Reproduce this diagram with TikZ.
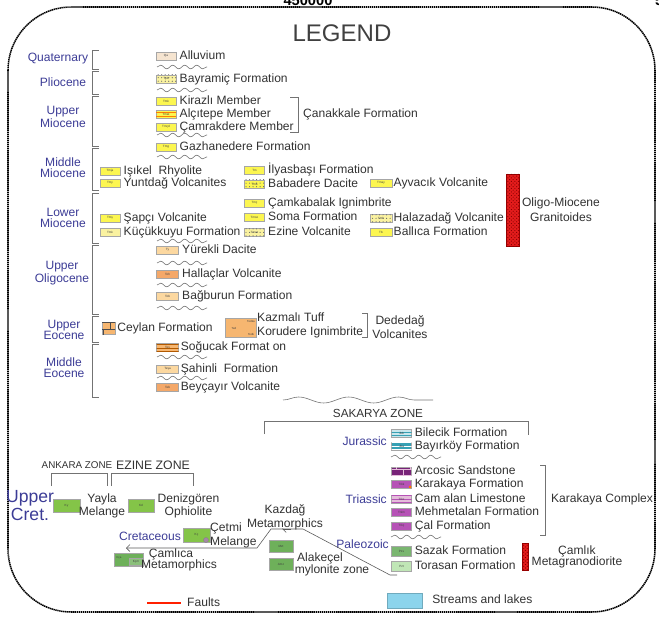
\documentclass[tikz,border=0pt]{standalone}
\usepackage{fontspec}
\setmainfont{Liberation Sans}
\usetikzlibrary{positioning,patterns,decorations.pathmorphing,arrows.meta}
\definecolor{txt}{RGB}{50,50,50}
\definecolor{period}{RGB}{60,60,150}
\definecolor{tyel}{RGB}{252,246,80}
\definecolor{tbeige}{RGB}{245,228,208}
\definecolor{tpale}{RGB}{250,242,160}
\definecolor{olpale}{RGB}{252,216,160}
\definecolor{olor}{RGB}{244,168,105}
\definecolor{eoor}{RGB}{246,182,112}
\definecolor{granred}{RGB}{228,28,28}
\definecolor{jlight}{RGB}{200,230,236}
\definecolor{jteal}{RGB}{55,160,180}
\definecolor{trdark}{RGB}{120,35,120}
\definecolor{trmid}{RGB}{182,82,182}
\definecolor{trpale}{RGB}{228,188,218}
\definecolor{pzmid}{RGB}{122,182,112}
\definecolor{pzpale}{RGB}{192,230,182}
\definecolor{kgreen}{RGB}{132,196,72}
\definecolor{mgreen}{RGB}{110,176,90}
\definecolor{lake}{RGB}{140,212,236}
\tikzset{
  unit/.style={draw=black!35, line width=0.3pt, inner sep=0pt, minimum width=0.6cm,
    minimum height=0.24cm, font=\fontsize{2.6}{3}\selectfont, text=black!75},
  wide/.style={unit, minimum width=0.66cm},
  lbl/.style={inner sep=0pt, text=txt, font=\fontsize{10.3}{11}\selectfont,
    text height=7.5pt, text depth=2pt},
  txtc/.style={inner sep=0pt, text=txt, align=center, font=\fontsize{10.3}{11.5}\selectfont},
  age/.style={inner sep=0pt, text=period, align=center, font=\fontsize{10.3}{9.4}\selectfont},
  tinytxt/.style={inner sep=0pt, font=\fontsize{2.4}{3}\selectfont, text=black!75},
  wavy/.style={decorate, decoration={snake, segment length=3.6mm, amplitude=0.55mm},
    black!55, line width=0.5pt},
  brack/.style={black!55, line width=0.6pt},
  dotfill/.style={postaction={pattern=dots, pattern color=black!60}},
  hlines/.style={postaction={pattern=horizontal lines, pattern color=#1}},
  granite/.style={draw=red!60!black, line width=0.3pt, fill=granred, inner sep=0pt,
    postaction={pattern=crosshatch dots, pattern color=red!50!black}},
  fault/.style={black!65, line width=0.5pt},
  frame/.style={line width=1.3pt, dash pattern=on 1.2pt off 0.5pt, rounded corners=1.9cm}
}
\begin{document}
\begin{tikzpicture}[x=0.03cm, y=-0.03cm]
\useasboundingbox (0,0) rectangle (659,619);
\draw[frame] (8,7) rectangle (655,612);
\node[font=\bfseries\fontsize{12.5}{14}\selectfont, anchor=base] (utm) at (308,6) {450000};
\node[font=\bfseries\fontsize{12.5}{14}\selectfont, anchor=base west, inner sep=0pt] (utmr) at (655,6) {5};
\node[text=black!75, font=\fontsize{20.5}{24}\selectfont] (legend) at (342,33) {LEGEND};

\node[age] (quat) at (58,59) {Quaternary};
\node[age] (plio) at (63,82) {Pliocene};
\node[age] (umio) at (63,117) {Upper\\Miocene};
\node[age] (mmio) at (63,168) {Middle\\Miocene};
\node[age] (lmio) at (63,218) {Lower\\Miocene};
\node[age] (uoli) at (62,273) {Upper\\Oligocene};
\node[age] (ueoc) at (64,330) {Upper\\Eocene};
\node[age] (meoc) at (64,368) {Middle\\Eocene};
\foreach \t/\b in {50/69, 71/94, 96/146, 148/190, 193/243, 245/314, 316/342, 344/397}
  \draw[brack] (99,\t) -- (92,\t) -- (92,\b) -- (99,\b);
\foreach \y in {67,90,135,157,241,263,285,308,357,378}
  \draw[wavy] (157,\y) -- (207,\y);

\node[unit, fill=tbeige] (qa) at (166,56) {Qa};
\node[lbl, right=1mm of qa] (qal) {Alluvium};
\node[unit, fill=tpale, dotfill] (tpb) at (166,79) {Tpb};
\node[lbl, right=1mm of tpb] (tpbl) {Bayramiç Formation};
\node[unit, fill=tyel] (tmk) at (166,101) {Tmk};
\node[lbl, right=1mm of tmk] (tmkl) {Kirazlı Member};
\node[unit, fill=tyel, hlines=orange] (tmat) at (166,114) {Tmat};
\node[lbl, right=1mm of tmat] (tmatl) {Alçıtepe Member};
\node[unit, fill=tyel] (tmcd) at (166,127) {Tmçd};
\node[lbl, right=1mm of tmcd] (tmcdl) {Çamrakdere Member};
\draw[brack] (290,97) -- (298,97) -- (298,132) -- (290,132);
\node[lbl, anchor=west] (canak) at (303,114) {Çanakkale Formation};
\node[unit, fill=tyel] (tmg) at (166,147) {Tmg};
\node[lbl, right=1mm of tmg] (tmgl) {Gazhanedere Formation};

\node[unit, fill=tyel] (tmi) at (110,171) {Tmja};
\node[lbl, right=1mm of tmi] (tmil) {Işıkel\ \ Rhyolite};
\node[unit, fill=tyel] (tmy) at (110,183) {Tmy};
\node[lbl, right=1mm of tmy] (tmyl) {Yuntdağ Volcanites};
\node[unit, fill=tyel] (tm) at (254.5,170) {Tm};
\node[lbl, right=1mm of tm] (tml) {İlyasbaşı Formation};
\node[unit, fill=tyel, dotfill] (tmb) at (254.5,184) {Tmb};
\node[lbl, right=1mm of tmb] (tmbl) {Babadere Dacite};
\node[wide, fill=tyel] (tmay) at (381,183) {Tmay};
\node[lbl, right=0.4mm of tmay] (tmayl) {Ayvacık Volcanite};

\node[unit, fill=tyel] (tms) at (110,218) {Tmş};
\node[lbl, right=1mm of tms] (tmsl) {Şapçı Volcanite};
\node[unit, fill=tpale] (tmkk) at (110,232) {Tmk};
\node[lbl, right=1mm of tmkk] (tmkkl) {Küçükkuyu Formation};
\node[unit, fill=tyel] (tmc) at (254.5,203) {Tmç};
\node[lbl, right=1mm of tmc] (tmcl) {Çamkabalak Ignimbrite};
\node[unit, fill=tyel] (tmso) at (254.5,217) {Tmso};
\node[lbl, right=1mm of tmso] (tmsol) {Soma Formation};
\node[unit, fill=tpale, dotfill] (tmez) at (254.5,232) {Tmez};
\node[lbl, right=1mm of tmez] (tmezl) {Ezine Volcanite};
\node[wide, fill=tpale, dotfill] (tmh) at (381,218) {Tmh};
\node[lbl, right=0.4mm of tmh] (tmhl) {Halazadağ Volcanite};
\node[wide, fill=tyel] (tb) at (381,232) {Tb};
\node[lbl, right=0.4mm of tb] (tbl) {Ballıca Formation};
\node[granite, minimum width=0.39cm, minimum height=2.16cm] (omg) at (512.5,210) {};
\node[txtc, font=\fontsize{10.3}{13}\selectfont] (omgl) at (561,210) {Oligo-Miocene\\Granitoides};

\node[wide, fill=olpale] (ty) at (167.5,250) {Ty};
\node[lbl, right=1mm of ty] (tyl) {Yürekli Dacite};
\node[wide, fill=olor] (toh) at (167.5,274) {Toh};
\node[lbl, right=1mm of toh] (tohl) {Hallaçlar Volcanite};
\node[wide, fill=olpale] (tob) at (167.5,296) {Tob};
\node[lbl, right=1mm of tob] (tobl) {Bağburun Formation};

\node[unit, fill=eoor, minimum width=0.39cm, minimum height=0.36cm,
  postaction={pattern=bricks, pattern color=black!70}] (tec) at (108.5,328) {};
\node[lbl, right=0.6mm of tec] (tecl) {Ceylan Formation};
\node[unit, fill=eoor, minimum width=0.93cm, minimum height=0.57cm] (ted) at (240.5,327.5) {};
\node[tinytxt] (tedt) at (234,328) {Ted};
\node[tinytxt] (tedka) at (251,321) {Tedka};
\node[tinytxt] (tedko) at (251,334) {Tedk};
\node[lbl, anchor=west] (tedkal) at (257,318) {Kazmalı Tuff};
\node[lbl, anchor=west] (tedkol) at (257,332) {Korudere Ignimbrite};
\draw[brack] (362,313) -- (367,313) -- (367,337) -- (362,337);
\node[txtc] (dede) at (400,327) {Dededağ\\Volcanites};
\node[wide, fill=eoor, hlines=orange!70!black] (tes) at (167.5,347) {Tes};
\node[lbl, right=0.6mm of tes] (tesl) {Soğucak Format on};
\node[wide, fill=olpale] (tesa) at (167.5,369) {Teşa};
\node[lbl, right=0.6mm of tesa] (tesal) {Şahinli\ \ Formation};
\node[wide, fill=olor] (teb) at (167.5,387) {Teb};
\node[lbl, right=0.6mm of teb] (tebl) {Beyçayır Volcanite};

\draw[wavy, decoration={snake, segment length=1.5cm, amplitude=0.9mm}] (283,400) -- (433,400);
\node[txtc, font=\fontsize{10}{11}\selectfont] (sak) at (378,413) {SAKARYA ZONE};
\draw[brack] (264,434) -- (264,421) -- (528,421) -- (528,435);
\node[age, anchor=east] (jur) at (387,441) {Jurassic};
\node[unit, fill=jlight, hlines=jteal] (jkb) at (401.5,433) {Jkb};
\node[lbl, right=0.9mm of jkb] (jkbl) {Bilecik Formation};
\node[unit, fill=jteal, hlines=white] (jba) at (401.5,446) {Jba};
\node[lbl, right=0.9mm of jba] (jbal) {Bayırköy Formation};
\foreach \y in {457,537}
  \draw[wavy] (391,\y) -- (441,\y);
\node[unit, fill=trdark, postaction={pattern=bricks, pattern color=trpale}] (trka) at (401.5,471) {};
\node[lbl, right=0.9mm of trka] (trkal) {Arcosic Sandstone};
\node[unit, fill=trmid] (trkk) at (401.5,484) {Trkk};
\fill[orange!90!red] (410,487) circle (0.45mm);
\node[lbl, right=0.9mm of trkk] (trkkl) {Karakaya Formation};
\node[unit, fill=trpale, hlines=trmid] (trkc) at (401.5,499) {Trkc};
\node[lbl, right=0.9mm of trkc] (trkcl) {Cam alan Limestone};
\node[unit, fill=trmid] (trkm) at (401.5,512) {Trkm};
\node[lbl, right=0.9mm of trkm] (trkml) {Mehmetalan Formation};
\node[unit, fill=trmid] (trkcal) at (401.5,526) {Trkç};
\node[lbl, right=0.9mm of trkcal] (trkcall) {Çal Formation};
\node[age, anchor=east] (tri) at (387,499) {Triassic};
\draw[brack] (540,465) -- (545,465) -- (545,535) -- (540,535);
\node[txtc] (karc) at (602,499) {Karakaya Complex};
\node[age, anchor=east] (pal) at (389,544) {Paleozoic};
\node[unit, fill=pzmid, minimum height=0.3cm] (pzs) at (401.5,551) {Pzs};
\node[lbl, right=0.9mm of pzs] (pzsl) {Sazak Formation};
\node[unit, fill=pzpale, minimum height=0.3cm] (pzt) at (401.5,566) {Pzt};
\node[lbl, right=0.9mm of pzt] (pztl) {Torasan Formation};
\node[granite, minimum width=0.18cm, minimum height=0.81cm] (caml) at (525,556.5) {};
\node[txtc, font=\fontsize{10.3}{10}\selectfont] (camll) at (577,557) {Çamlık\\Metagranodiorite};

\node[txtc, font=\fontsize{8.4}{10}\selectfont] (ankz) at (77,465) {ANKARA ZONE};
\node[txtc, font=\fontsize{10.5}{12}\selectfont] (ezz) at (153,465) {EZINE ZONE};
\draw[brack] (51,486) -- (51,473) -- (107,473) -- (107,486);
\draw[brack] (111,486) -- (111,473) -- (193,473) -- (193,486);
\node[age, font=\fontsize{15}{11.5}\selectfont] (ucret) at (30,505.5) {Upper\\Cret.};
\node[unit, fill=kgreen, minimum width=0.81cm, minimum height=0.39cm] (ky) at (66.5,505.5) {Ky};
\node[txtc] (yayla) at (102,506) {Yayla\\Melange};
\node[unit, fill=kgreen, minimum width=0.78cm, minimum height=0.39cm] (kd) at (141,505.5) {Kd};
\node[txtc] (deniz) at (188.5,506) {Denizgören\\Ophiolite};
\node[age] (cret) at (150,536) {Cretaceous};
\node[unit, fill=kgreen, minimum width=0.81cm, minimum height=0.42cm] (kc) at (196.5,535) {Kç};
\filldraw[fill=violet!35!gray!70, draw=gray, line width=0.3pt] (206,540) circle (0.75mm);
\node[txtc, align=left, anchor=west, font=\fontsize{10.3}{12}\selectfont] (cetmi) at (210,535) {Çetmi\\Melange};
\node[txtc] (kazd) at (285,517.5) {Kazdağ\\Metamorphics};
\node[unit, fill=mgreen, minimum width=0.87cm, minimum height=0.39cm] (kca) at (128.5,559.5) {};
\node[tinytxt] (kcat) at (119,558) {Kça};
\node[unit, fill=mgreen!80!white, minimum width=0.42cm, minimum height=0.22cm] (kcm) at (136,562) {Kçm};
\node[txtc] (camlica) at (171,554) {Çamlıca};
\node[txtc] (camlm) at (179,565) {Metamorphics};
\node[unit, fill=mgreen, minimum width=0.72cm, minimum height=0.36cm] (mzt) at (281,546) {Mzt};
\node[unit, fill=mgreen, minimum width=0.72cm, minimum height=0.36cm] (amz) at (281,564) {Amz};
\node[txtc] (alak) at (320,558) {Alakeçel};
\node[txtc] (mylo) at (332,570) {mylonite zone};
\coordinate (f1) at (397,575);
\coordinate (f2) at (390,575);
\coordinate (f3) at (303,529);
\coordinate (f4) at (271,529);
\coordinate (f5) at (257,548);
\coordinate (f6) at (126,548);
\draw[fault, -{Straight Barb[length=3pt]}] (f1) -- (f2) -- (f3) -- (f4) -- (f5) -- (f6);
\draw[fault, -{Straight Barb[harpoon, length=3pt]}] (291,529) -- (282,529);

\draw[red!75!orange, line width=1pt] (147,603) -- (181,603);
\node[lbl, anchor=west] (faults) at (187,603) {Faults};
\node[fill=lake, draw=lake!80!black, line width=0.3pt, minimum width=1.05cm, minimum height=0.45cm] (lakes) at (404.5,600.5) {};
\node[lbl, right=3mm of lakes] (lakesl) {Streams and lakes};
\end{tikzpicture}
\end{document}
